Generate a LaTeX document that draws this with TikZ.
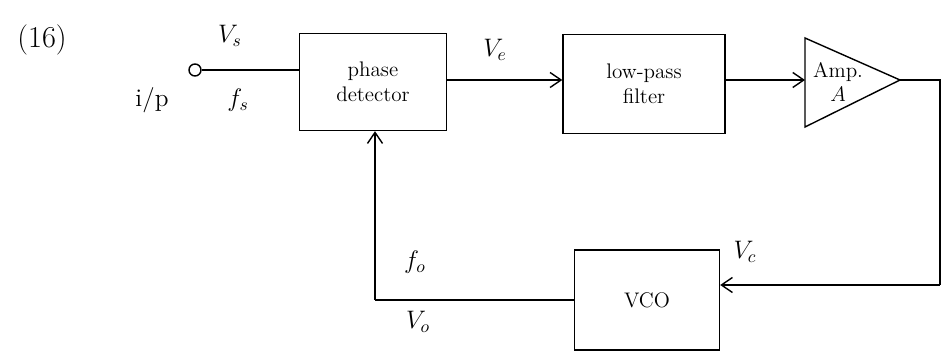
\documentclass[tikz,border=0pt]{standalone}
\usetikzlibrary{arrows.meta}
\begin{document}
\begin{tikzpicture}[x=0.02cm,y=-0.02cm,
  blk/.style={draw,thick,align=center,font=\large},
  wire/.style={thick},
  arr/.style={thick,-{Straight Barb[length=2.2mm,width=3mm]}},
  lbl/.style={font=\Large}]
\useasboundingbox (0,0) rectangle (949,357);
\node[font=\LARGE] (num) at (42,40) {(16)};
\node[draw,thick,circle,minimum size=0.24cm,inner sep=0pt] (in) at (195,70) {};
\node[lbl] (vs) at (230,36) {$V_s$};
\node[lbl] (fs) at (238,100) {$f_s$};
\node[lbl] (ip) at (152,100) {i/p};
\node[blk,minimum width=2.94cm,minimum height=1.94cm] (pd) at (373,82) {phase\\detector};
\node[blk,minimum width=3.24cm,minimum height=1.98cm] (lpf) at (644,84) {low-pass\\filter};
\coordinate (a1) at (805,38);
\coordinate (a2) at (805,127);
\coordinate (a3) at (900,80);
\draw[thick] (a1) -- (a3) -- (a2) -- cycle;
\node[font=\large,align=center] (amp) at (838,82) {Amp.\\$A$};
\coordinate (ain) at (805,80);
\node[blk,minimum width=2.9cm,minimum height=2cm] (vco) at (647,300) {VCO};
\node[lbl] (ve) at (495,50) {$V_e$};
\node[lbl] (vc) at (745,252) {$V_c$};
\node[lbl] (fo) at (415,262) {$f_o$};
\node[lbl] (vo) at (418,322) {$V_o$};
\coordinate (r1) at (940,80);
\coordinate (r2) at (940,285);
\coordinate (l1) at (375,300);
\draw[wire] (in.east) -- (in -| pd.west);
\draw[arr] (pd.east |- 0,80) -- (lpf.west |- 0,80);
\draw[arr] (lpf.east |- ain) -- (ain);
\draw[wire] (a3) -- (r1) -- (r2);
\draw[arr] (r2) -- (r2 -| vco.east);
\draw[wire] (vco.west) -- (l1);
\draw[arr] (l1) -- (l1 |- pd.south);
\end{tikzpicture}
\end{document}
